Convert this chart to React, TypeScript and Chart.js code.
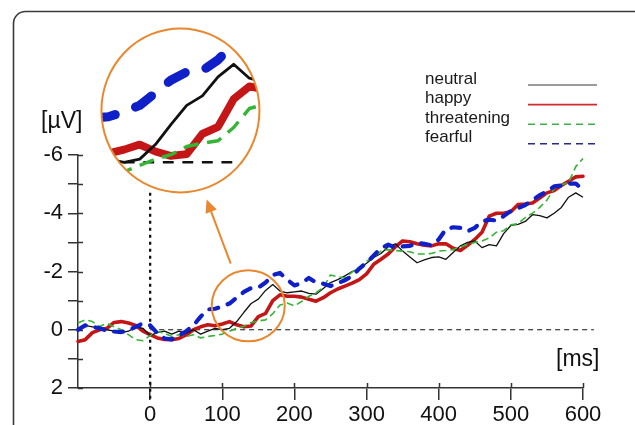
import React, { useEffect, useRef } from 'react';
import { Chart, registerables } from 'chart.js';

Chart.register(...registerables);

// ---- data ----
const TIME_MS = [
  -100, -90, -80, -70, -60, -50, -40, -30, -20, -10,
  0, 10, 20, 30, 40, 50, 60, 70, 80, 90,
  100, 110, 120, 130, 140, 150, 160, 170, 180, 190,
  200, 210, 220, 230, 240, 250, 260, 270, 280, 290,
  300, 310, 320, 330, 340, 350, 360, 370, 380, 390,
  400, 410, 420, 430, 440, 450, 460, 470, 480, 490,
  500, 510, 520, 530, 540, 550, 560, 570, 580, 590,
  600, 610,
];

const NEUTRAL = [
  0.05, -0.15, -0.1, -0.05, 0.0, 0.05, 0.1, 0.05, -0.1, -0.05,
  0.2, 0.1, 0.05, 0.15, 0.05, 0.12, 0.0, 0.15, 0.05, -0.05,
  0.0, -0.05, -0.28, -0.6, -0.9, -1.05, -1.35, -1.55, -1.33, -1.27,
  -1.3, -1.33, -1.25, -1.22, -1.42, -1.62, -1.72, -1.85, -2.0, -2.1,
  -2.28, -2.48, -2.62, -2.85, -2.95, -2.7, -2.5, -2.3, -2.4, -2.48,
  -2.5, -2.42, -2.65, -2.88, -3.0, -3.05, -2.82, -2.92, -2.88, -3.3,
  -3.58, -3.62, -3.72, -3.95, -3.92, -3.84, -4.0, -4.2, -4.55, -4.7,
  -4.55, -4.42,
];

const HAPPY = [
  0.4, 0.34, 0.1, 0.0, -0.05, -0.25, -0.28, -0.23, -0.15, 0.05,
  0.17, 0.28, 0.33, 0.34, 0.3, 0.18, 0.0, -0.1, -0.17, -0.14,
  -0.2, -0.28, -0.17, -0.1, -0.13, -0.45, -0.56, -1.0, -1.2, -1.15,
  -1.15, -1.12, -1.05, -0.98, -1.1, -1.27, -1.4, -1.5, -1.6, -1.72,
  -1.92, -2.25, -2.42, -2.6, -2.85, -3.05, -3.02, -2.95, -2.9, -2.88,
  -2.95, -2.95, -2.8, -2.72, -2.9, -3.1, -3.35, -3.9, -4.0, -4.0,
  -4.05, -4.3, -4.32, -4.35, -4.52, -4.7, -4.78, -4.95, -5.1, -5.25,
  -5.27, -5.15,
];

const THREATENING = [
  -0.23, -0.34, -0.28, -0.11, -0.22, -0.1, 0.0, 0.17, 0.34, 0.38,
  0.2, 0.06, 0.12, 0.23, 0.17, 0.23, 0.17, 0.28, 0.23, 0.2,
  0.15, 0.05, -0.05, -0.12, -0.25, -0.3, -0.34, -0.55, -0.85, -0.92,
  -0.82, -0.97, -1.15, -1.27, -1.45, -1.88, -1.82, -1.78, -1.98, -2.15,
  -2.35, -2.5, -2.7, -2.75, -2.72, -2.7, -2.68, -2.6, -2.6, -2.62,
  -2.7, -2.72, -2.75, -2.85, -2.92, -3.0, -3.05, -3.15, -3.35, -3.4,
  -3.6, -3.65, -3.85, -4.0, -4.2, -4.45, -4.85, -4.98, -5.05, -5.6,
  -5.88, -5.7,
];

const FEARFUL = [
  0.0, -0.15, -0.1, -0.05, 0.03, 0.06, 0.08, 0.02, -0.1, -0.22,
  -0.15, 0.12, 0.3, 0.33, 0.2, 0.05, -0.15, -0.45, -0.7, -0.72,
  -0.8, -0.9, -1.1, -1.3, -1.43, -1.45, -1.62, -1.88, -1.95, -1.72,
  -1.52, -1.6, -1.78, -1.62, -1.58, -1.5, -1.6, -1.7, -1.85, -2.1,
  -2.3, -2.55, -2.8, -2.92, -2.82, -2.86, -2.88, -2.98, -2.95, -2.9,
  -3.1, -3.45, -3.52, -3.5, -3.38, -3.5, -3.72, -3.78, -3.75, -3.9,
  -4.08, -4.18, -4.28, -4.45, -4.62, -4.75, -4.92, -4.95, -5.02, -5.02,
  -4.8, -4.6,
];

const SERIES_NAMES = ['neutral', 'happy', 'threatening', 'fearful'];
const X_TICKS = [0, 100, 200, 300, 400, 500, 600];
const Y_TICKS = [-6, -5, -4, -3, -2, -1, 0, 1, 2];
const BASELINE_SPAN = [0, 615]; // ms range of the dashed 0 µV line
const ONSET_SPAN = [-4.7, 2.4]; // µV range of dotted onset line at 0 ms

// inset magnifier (data coordinates)
const ZOOM_SOURCE = { ms: 136, uv: -0.82 };
const ZOOM_TARGET = { ms: 42, uv: -7.53 };
const ARROW_TAIL = { ms: 111.7, uv: -2.27 };
const ARROW_TIP = { ms: 78.3, uv: -4.47 };

// ---- styles ----
const FONT = "'Liberation Sans', Arial, Helvetica, sans-serif";
const ORANGE = '#E8872E';
const AXIS = '#333333';
const MAG = 2.17;
const SRC_R = [36.5, 35.5];
const DST_R = [79, 82];

const SERIES_STYLE = [
  { color: '#111111', width: 1.3, dash: [] as number[], cap: 'butt', order: 3 },
  { color: '#C41616', width: 3.6, dash: [] as number[], cap: 'round', order: 4 },
  { color: '#35B535', width: 1.6, dash: [7, 4], cap: 'butt', order: 2 },
  { color: '#1020C8', width: 4.2, dash: [9, 10], cap: 'round', order: 1 },
];
const LEGEND_STYLE = [
  { color: '#7a7a7a', dash: [] as number[] },
  { color: '#D42A2A', dash: [] as number[] },
  { color: '#3CB04A', dash: [7, 5] },
  { color: '#2A2A8A', dash: [7, 5] },
];

const frameAndTextPlugin = {
  id: 'frameAndText',
  beforeDraw(chart: any) {
    const ctx = chart.ctx;
    ctx.save();
    ctx.fillStyle = '#ffffff';
    ctx.fillRect(0, 0, chart.width, chart.height);
    ctx.strokeStyle = '#3a3a3a';
    ctx.lineWidth = 1.6;
    ctx.beginPath();
    (ctx as any).roundRect(13.5, 11.5, 640, 440, 12);
    ctx.stroke();
    ctx.restore();
  },
  beforeDatasetsDraw(chart: any) {
    const { ctx, scales } = chart;
    const x = scales.x, y = scales.y;
    ctx.save();
    // inward halves of tick marks
    ctx.strokeStyle = AXIS;
    ctx.lineWidth = 1.5;
    ctx.beginPath();
    X_TICKS.forEach((t) => {
      const px = Math.round(x.getPixelForValue(t)) + 0.5;
      ctx.moveTo(px, y.bottom);
      ctx.lineTo(px, y.bottom - 5);
    });
    Y_TICKS.forEach((t) => {
      const py = Math.round(y.getPixelForValue(t)) + 0.5;
      ctx.moveTo(x.left, py);
      ctx.lineTo(x.left + 5, py);
    });
    ctx.stroke();
    // dotted onset line
    ctx.strokeStyle = '#111';
    ctx.lineWidth = 2.3;
    ctx.setLineDash([3, 4]);
    ctx.beginPath();
    const ox = x.getPixelForValue(0);
    ctx.moveTo(ox, y.getPixelForValue(ONSET_SPAN[0]));
    ctx.lineTo(ox, y.getPixelForValue(ONSET_SPAN[1]));
    ctx.stroke();
    ctx.setLineDash([]);
    // unit labels
    ctx.fillStyle = '#111';
    ctx.font = `23px ${FONT}`;
    ctx.textBaseline = 'alphabetic';
    ctx.textAlign = 'left';
    ctx.fillText('[µV]', 41, 128);
    ctx.fillText('[ms]', 556, 366);
    // legend
    ctx.font = `17px ${FONT}`;
    SERIES_NAMES.forEach((name, i) => {
      ctx.fillStyle = '#1a1a1a';
      ctx.fillText(name, 425, 83.5 + i * 19.5);
      ctx.strokeStyle = LEGEND_STYLE[i].color;
      ctx.lineWidth = 1.6;
      ctx.setLineDash(LEGEND_STYLE[i].dash);
      ctx.beginPath();
      const ly = 85 + i * 19.6;
      ctx.moveTo(528, ly);
      ctx.lineTo(597, ly);
      ctx.stroke();
    });
    ctx.restore();
  },
  afterDatasetsDraw(chart: any) {
    const { ctx, scales } = chart;
    const x = scales.x, y = scales.y;
    const sx = x.getPixelForValue(ZOOM_SOURCE.ms), sy = y.getPixelForValue(ZOOM_SOURCE.uv);
    const bx = x.getPixelForValue(ZOOM_TARGET.ms), by = y.getPixelForValue(ZOOM_TARGET.uv);
    ctx.save();
    ctx.beginPath();
    ctx.ellipse(bx, by, DST_R[0], DST_R[1], 0, 0, Math.PI * 2);
    ctx.fillStyle = '#ffffff';
    ctx.fill();
    ctx.clip();
    ctx.translate(bx, by);
    ctx.scale(MAG, MAG);
    ctx.translate(-sx, -sy);
    const metas = chart.getSortedVisibleDatasetMetas();
    for (let i = metas.length - 1; i >= 0; i--) {
      const meta = metas[i];
      const ds = chart.data.datasets[meta.index];
      ctx.beginPath();
      meta.data.forEach((p: any, j: number) => (j ? ctx.lineTo(p.x, p.y) : ctx.moveTo(p.x, p.y)));
      ctx.strokeStyle = ds.borderColor;
      ctx.lineWidth = ds.borderWidth;
      ctx.setLineDash(ds.borderDash || []);
      ctx.lineCap = ds.borderCapStyle || 'butt';
      ctx.lineJoin = 'round';
      ctx.stroke();
    }
    ctx.restore();

    ctx.save();
    ctx.strokeStyle = ORANGE;
    ctx.lineWidth = 2;
    ctx.beginPath();
    ctx.ellipse(bx, by, DST_R[0], DST_R[1], 0, 0, Math.PI * 2);
    ctx.stroke();
    ctx.beginPath();
    ctx.ellipse(sx, sy, SRC_R[0], SRC_R[1], 0, 0, Math.PI * 2);
    ctx.stroke();
    // arrow
    const tx = x.getPixelForValue(ARROW_TAIL.ms), ty = y.getPixelForValue(ARROW_TAIL.uv);
    const hx = x.getPixelForValue(ARROW_TIP.ms), hy = y.getPixelForValue(ARROW_TIP.uv);
    const ang = Math.atan2(hy - ty, hx - tx);
    const hl = 13, hw = 6;
    ctx.beginPath();
    ctx.moveTo(tx, ty);
    ctx.lineTo(hx - Math.cos(ang) * hl * 0.8, hy - Math.sin(ang) * hl * 0.8);
    ctx.stroke();
    ctx.fillStyle = ORANGE;
    ctx.beginPath();
    ctx.moveTo(hx, hy);
    ctx.lineTo(hx - Math.cos(ang) * hl + Math.sin(ang) * hw, hy - Math.sin(ang) * hl - Math.cos(ang) * hw);
    ctx.lineTo(hx - Math.cos(ang) * hl - Math.sin(ang) * hw, hy - Math.sin(ang) * hl + Math.cos(ang) * hw);
    ctx.closePath();
    ctx.fill();
    ctx.restore();
  },
};

export default function App() {
  const ref = useRef<HTMLCanvasElement>(null);
  useEffect(() => {
    const seriesValues = [NEUTRAL, HAPPY, THREATENING, FEARFUL];
    const datasets: any[] = seriesValues.map((vals, i) => ({
      label: SERIES_NAMES[i],
      data: TIME_MS.map((t, j) => ({ x: t, y: vals[j] })),
      borderColor: SERIES_STYLE[i].color,
      borderWidth: SERIES_STYLE[i].width,
      borderDash: SERIES_STYLE[i].dash,
      borderCapStyle: SERIES_STYLE[i].cap,
      borderJoinStyle: 'round',
      order: SERIES_STYLE[i].order,
      pointRadius: 0,
      tension: 0,
      clip: false,
    }));
    datasets.push({
      label: 'baseline',
      data: BASELINE_SPAN.map((t) => ({ x: t, y: 0 })),
      borderColor: '#111',
      borderWidth: 1.2,
      borderDash: [5, 4],
      borderCapStyle: 'butt',
      order: 5,
      pointRadius: 0,
      clip: false,
    });
    const chart = new Chart(ref.current!, {
      type: 'line',
      data: { datasets },
      plugins: [frameAndTextPlugin],
      options: {
        animation: false,
        responsive: false,
        devicePixelRatio: 1,
        events: [],
        layout: { padding: { top: 155, right: 52, left: 0, bottom: 0 } },
        plugins: { legend: { display: false }, tooltip: { enabled: false } },
        scales: {
          x: {
            type: 'linear',
            min: -100,
            max: 600,
            position: 'bottom',
            afterBuildTicks: (scale: any) => {
              scale.ticks = X_TICKS.map((v) => ({ value: v }));
            },
            afterFit: (scale: any) => {
              scale.height = 37;
            },
            grid: { drawOnChartArea: false, drawTicks: true, tickLength: 12, color: AXIS, lineWidth: 1.5 },
            border: { display: true, color: AXIS, width: 1.5 },
            ticks: {
              autoSkip: false,
              maxRotation: 0,
              padding: 2,
              color: '#111',
              font: { family: FONT, size: 22 },
              callback: (v: any) => String(v),
            },
          },
          y: {
            type: 'linear',
            reverse: true,
            min: -6,
            max: 2,
            afterBuildTicks: (scale: any) => {
              scale.ticks = Y_TICKS.map((v) => ({ value: v }));
            },
            afterFit: (scale: any) => {
              scale.width = 78;
            },
            grid: { drawOnChartArea: false, drawTicks: true, tickLength: 10, color: AXIS, lineWidth: 1.5 },
            border: { display: true, color: AXIS, width: 1.5 },
            ticks: {
              autoSkip: false,
              padding: 5,
              color: '#111',
              font: { family: FONT, size: 22 },
              callback: (v: any) => (Number(v) % 2 === 0 ? String(v) : ''),
            },
          },
        },
      } as any,
    });
    return () => chart.destroy();
  }, []);
  return (
    <div style={{ position: 'fixed', left: 0, top: 0, width: 635, height: 425, background: '#fff' }}>
      <canvas ref={ref} width={635} height={425} style={{ display: 'block' }} />
    </div>
  );
}
